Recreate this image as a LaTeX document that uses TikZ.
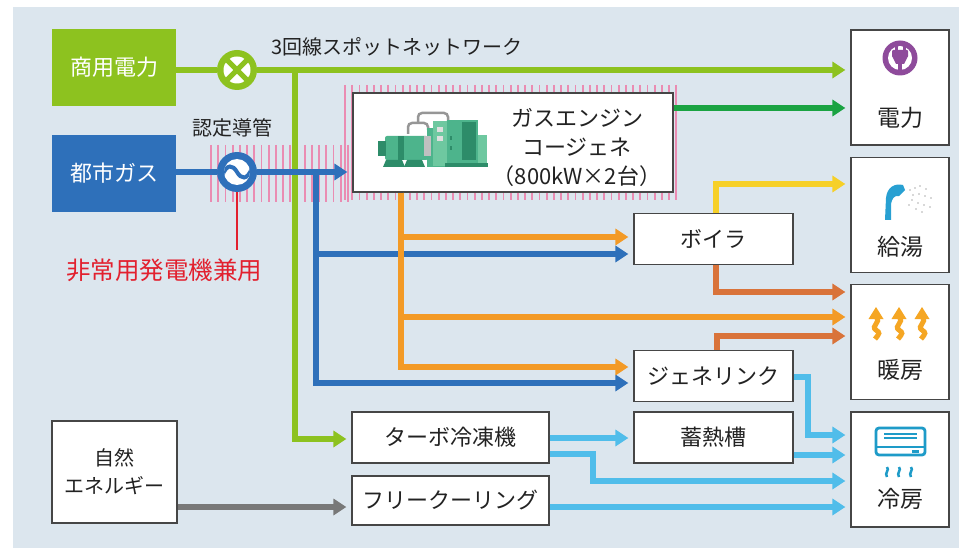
\documentclass[tikz,border=0pt]{standalone}
\usepackage{fontspec}
\setmainfont{Noto Sans CJK JP}
\usetikzlibrary{arrows.meta}

\definecolor{panel}{RGB}{220,230,238}
\definecolor{elgreen}{RGB}{141,194,31}
\definecolor{dkgreen}{RGB}{26,163,66}
\definecolor{gasblue}{RGB}{46,112,186}
\definecolor{heatorange}{RGB}{243,154,38}
\definecolor{rust}{RGB}{217,115,58}
\definecolor{hotyellow}{RGB}{246,208,40}
\definecolor{coolblue}{RGB}{80,189,234}
\definecolor{natgray}{RGB}{120,120,120}
\definecolor{alertred}{RGB}{226,32,46}
\definecolor{hatchpink}{RGB}{234,140,178}
\definecolor{plugpurple}{RGB}{142,75,155}
\definecolor{acteal}{RGB}{30,155,200}
\definecolor{showerblue}{RGB}{40,160,210}
\definecolor{warm}{RGB}{245,166,35}
\definecolor{ink}{RGB}{34,34,34}
\definecolor{boxline}{RGB}{70,70,70}
\definecolor{mach}{RGB}{77,180,140}
\definecolor{machdk}{RGB}{45,140,105}
\definecolor{machlt}{RGB}{110,200,160}
\definecolor{pipegray}{RGB}{150,150,150}

\tikzset{
  flow/.style={line width=5.5pt, -{Triangle[length=13pt,width=16pt]}, shorten >=5pt},
  feed/.style={line width=5.5pt},
  hatch/.style={draw=hatchpink, line width=1.8pt},
  srcbox/.style={minimum width=124pt, minimum height=77pt, inner sep=0pt, text=white,
    font=\fontsize{22}{26}\selectfont},
  unitbox/.style={draw=boxline, line width=1.2pt, fill=white, text=ink, minimum width=159pt,
    minimum height=51pt, inner sep=0pt, font=\fontsize{22}{26}\selectfont},
  usebox/.style={draw=boxline, line width=1.2pt, fill=white, minimum width=98pt,
    minimum height=115pt, inner sep=0pt},
  uselabel/.style={text=ink, font=\fontsize{23}{27}\selectfont, inner sep=0pt},
  caption/.style={text=ink, font=\fontsize{20}{24}\selectfont, inner sep=0pt},
  symbol/.style={circle, minimum size=40pt, inner sep=0pt},
}

\begin{document}
\begin{tikzpicture}[x=1pt,y=-1pt]
\useasboundingbox (0,0) rectangle (959,548);
\fill[white] (0,0) rectangle (959,548);
\fill[panel] (13,7) rectangle (959,548);

% certified conduit zone (striped band)
\foreach \x in {211,218.2,...,352} \draw[hatch] (\x,145) -- (\x,202);
\foreach \x in {345,352.2,...,680} \draw[hatch] (\x,85) -- (\x,200);

% sources
\node[srcbox, fill=elgreen] (grid) at (114,67.5) {商用電力};
\node[srcbox, fill=gasblue] (citygas) at (114,173.5) {都市ガス};
\node[unitbox, minimum width=125pt, minimum height=102pt, align=center,
  font=\fontsize{20}{28}\selectfont] (nature) at (114.5,472) {自然\\エネルギー};

% plant
\node[draw=boxline, line width=1.2pt, fill=white, minimum width=320pt, minimum height=99pt,
  inner sep=0pt] (cogen) at (513,142.5) {};
\node[align=center, text=ink, font=\fontsize{22}{29}\selectfont, inner sep=0pt]
  (cogenlbl) at (577,147) {ガスエンジン\\コージェネ\\（800kW×2台）};
\node[unitbox] (boiler) at (713.5,239) {ボイラ};
\node[unitbox] (genelink) at (713.5,376) {ジェネリンク};
\node[unitbox] (storage) at (713.5,437.5) {蓄熱槽};
\node[unitbox, minimum width=197pt] (turbo) at (450.5,437.5) {ターボ冷凍機};
\node[unitbox, minimum width=197pt, minimum height=49pt] (freecool) at (450.5,500.5) {フリークーリング};

% end uses
\node[usebox] (power) at (900,87.5) {};
\node[usebox] (hotwater) at (900,215) {};
\node[usebox] (heating) at (900,342) {};
\node[usebox] (cooling) at (900,469.5) {};
\node[uselabel] (powerlbl) at (900,118) {電力};
\node[uselabel] (hotwaterlbl) at (900,247) {給湯};
\node[uselabel] (heatinglbl) at (900,370) {暖房};
\node[uselabel] (coolinglbl) at (900,499) {冷房};

% captions
\node[caption, anchor=west] (netlbl) at (271,47) {3回線スポットネットワーク};
\node[caption] (conduitlbl) at (232,128) {認定導管};
\node[text=alertred, font=\fontsize{24.5}{28}\selectfont, inner sep=0pt] (backup) at (164,270) {非常用発電機兼用};

% network breaker symbol
\node[symbol, fill=elgreen] (breaker) at (237,70) {};
\fill[white] (breaker.center) circle (13.5);
\draw[elgreen, line width=5pt] ([shift={(-10,-10)}]breaker.center) -- ([shift={(10,10)}]breaker.center);
\draw[elgreen, line width=5pt] ([shift={(-10,10)}]breaker.center) -- ([shift={(10,-10)}]breaker.center);

% gas governor symbol
\node[symbol, fill=gasblue] (valve) at (237,172) {};
\fill[white] (valve.center) circle (13);
\begin{scope}
  \clip (valve.center) circle (13);
  \draw[gasblue, line width=4pt] (222,176) .. controls (227,163) and (233,165) .. (237,172)
    .. controls (241,179) and (247,181) .. (252,168);
\end{scope}

% engine illustration
\draw[pipegray, line width=2.5pt, rounded corners=4pt] (418,124) -- (418,113) -- (448,113) -- (448,122);
\draw[pipegray, line width=2.5pt, rounded corners=4pt] (408,134) -- (408,123) -- (428,123) -- (428,130);
\fill[mach, rounded corners=2pt] (385,136) rectangle (428,160);
\fill[machdk] (378,141) rectangle (386,156);
\fill[machdk] (398,136) rectangle (404,160);
\fill[machdk] (386,160) -- (402,160) -- (405,167) -- (383,167) -- cycle;
\fill[machdk] (407,160) -- (422,160) -- (425,167) -- (404,167) -- cycle;
\fill[mach] (427,128) rectangle (448,167);
\fill[pipegray!60] (424,136) rectangle (431,156);
\fill[machlt] (433,121) rectangle (447,166);
\fill[gray!25] (437,127) rectangle (443,132);
\fill[gray!25] (437,136) rectangle (443,141);
\fill[mach] (447,120) rectangle (478,163);
\fill[machdk] (462,122) rectangle (476,160);
\fill[machdk] (450,136) rectangle (452,140);
\fill[machdk] (450,146) rectangle (452,150);
\fill[machlt] (478,135) rectangle (487,163);
\fill[machdk] (445,163) rectangle (488,167);

% plug icon
\fill[plugpurple] (900,58) circle (17.5);
\fill[white] (900,58) circle (12);
\fill[plugpurple] (894.5,45) rectangle (897.5,51);
\fill[plugpurple] (902.5,45) rectangle (905.5,51);
\fill[plugpurple, rounded corners=1pt] (892,50) rectangle (908,57);
\fill[plugpurple] (892,56) -- (908,56) -- (904,64) -- (896,64) -- cycle;
\fill[plugpurple] (898.3,63) rectangle (901.7,72);

% shower icon
\fill[showerblue] (885,220) -- (886,198) .. controls (887,187) and (895,183) .. (903,185)
  -- (905,190) -- (899,196) .. controls (894,195) and (892,199) .. (891,204) -- (891,220) -- cycle;
\foreach \p in {(910,190),(915,188),(920,186),(926,189),(913,195),(919,194),(925,196),
  (931,198),(912,200),(918,203),(924,205),(930,207),(916,209),(922,212),(909,205)}
  \fill[gray!60] \p circle (0.8);

% warm air icon
\foreach \hx in {876,899,922} {
  \fill[warm] ({\hx-7.5},319) -- (\hx,307) -- ({\hx+7.5},319) -- cycle;
  \draw[warm, line width=5pt] (\hx,317) .. controls ({\hx+6},322) and ({\hx-6},326) .. (\hx,330)
    .. controls ({\hx+4},333) .. ({\hx-1},339);
}

% air conditioner icon
\draw[acteal, line width=2.8pt, rounded corners=3pt] (876,428) rectangle (925,455);
\draw[acteal, line width=1.5pt] (884,434) -- (917,434) (884,438) -- (917,438);
\draw[acteal, line width=2.5pt] (876,447) -- (925,447);
\fill[acteal] (912,450) rectangle (919,452.5);
\foreach \wx in {887,899,911}
  \draw[acteal, line width=2.5pt] (\wx,467) .. controls ({\wx+3},470) and ({\wx-3},473) .. (\wx,477);

% electricity
\draw[feed, elgreen] (grid.east |- breaker) -- (breaker.west);
\draw[flow, elgreen] (breaker.east) -- (breaker.east -| power.west);
\coordinate (gtap) at (295,70);
\draw[flow, elgreen] (gtap) |- (turbo.west |- 0,439);
\draw[flow, dkgreen] (cogen.east |- 0,108) -- (power.west |- 0,108);

% city gas
\draw[feed, gasblue] (citygas.east |- valve) -- (valve.west);
\draw[flow, gasblue] (valve.east) -- (valve.east -| cogen.west);
\coordinate (btap) at (316,172);
\draw[flow, gasblue] (btap) |- (boiler.west |- 0,254);
\draw[flow, gasblue] (btap) |- (genelink.west |- 0,383);
\draw[alertred, line width=2pt, shorten >=8pt] (valve.south) -- (valve.south |- backup.north);

% recovered heat
\coordinate (htap) at (cogen.south -| 401,0);
\draw[flow, heatorange] (htap) |- (boiler.west |- 0,237);
\draw[flow, heatorange] (htap) |- (heating.west |- 0,317);
\draw[flow, heatorange] (htap) |- (genelink.west |- 0,367);

% boiler and absorption chiller outputs
\draw[flow, hotyellow] (boiler.north -| 716,0) |- (hotwater.west |- 0,184);
\draw[flow, rust] (boiler.south -| 716,0) |- (heating.west |- 0,292);
\draw[flow, rust] (genelink.north -| 717,0) |- (heating.west |- 0,336);

% chilled water
\coordinate (gbend) at (808,435);
\draw[flow, coolblue] (genelink.east |- 0,377) -| (gbend) -- (gbend -| cooling.west);
\draw[flow, coolblue] (turbo.east |- 0,438) -- (storage.west |- 0,438);
\coordinate (tbend) at (593,481);
\draw[flow, coolblue] (turbo.east |- 0,454) -| (tbend) -- (tbend -| cooling.west);
\draw[flow, coolblue] (storage.east |- 0,455) -- (cooling.west |- 0,455);
\draw[flow, coolblue] (freecool.east |- 0,507) -- (cooling.west |- 0,507);
\draw[flow, natgray] (nature.east |- 0,507) -- (freecool.west |- 0,507);
\end{tikzpicture}
\end{document}
